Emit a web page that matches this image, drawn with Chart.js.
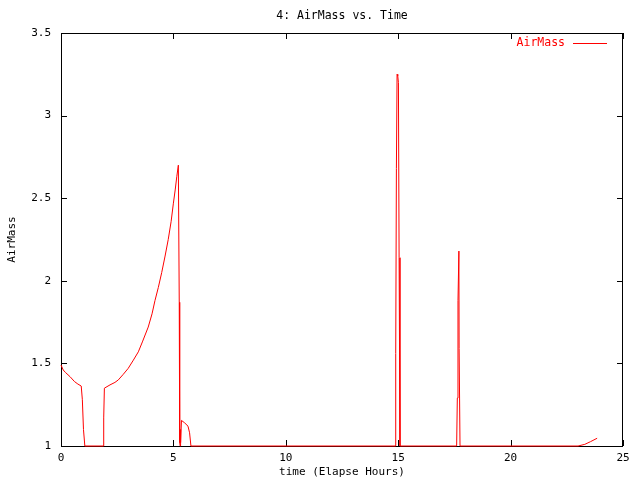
<!DOCTYPE html>
<html>
<head>
<meta charset="utf-8">
<script src="https://cdn.jsdelivr.net/npm/chart.js@4.4.1/dist/chart.umd.min.js"></script>
<style>
  html, body { margin: 0; padding: 0; background: #fff; }
  #wrap { width: 640px; height: 480px; }
</style>
</head>
<body>
<div id="wrap"><canvas id="airmassChart"></canvas></div>
<script>
// values
const chartTitle = '4: AirMass vs. Time';
const seriesLabel = 'AirMass';
const xTitle = 'time (Elapse Hours)';
const yTitle = 'AirMass';
const xTicks = [0, 5, 10, 15, 20, 25];
const yTicks = [1, 1.5, 2, 2.5, 3, 3.5];

const times = [
  0, 0.1, 0.2, 0.4, 0.6, 0.75, 0.9, 0.95, 1.0, 1.06,
  1.88, 1.90, 1.93, 2.18, 2.40, 2.55, 2.77, 2.99, 3.22, 3.44,
  3.62, 3.88, 4.05, 4.18, 4.33, 4.48, 4.63, 4.77, 4.9, 5.0,
  5.08, 5.15, 5.22, 5.26, 5.28, 5.30, 5.31, 5.33, 5.36, 5.5,
  5.65, 5.72, 5.78, 14.87, 14.89, 14.92, 14.95, 14.98, 15.01, 15.04,
  15.08, 17.60, 17.63, 17.66, 17.70, 17.71, 17.75, 23.0, 23.3, 23.55,
  23.85
];
const airmass = [
  1.49, 1.46, 1.445, 1.42, 1.39, 1.375, 1.363, 1.28, 1.1, 1.0,
  1.0, 1.17, 1.35, 1.37, 1.385, 1.40, 1.434, 1.47, 1.52, 1.57,
  1.63, 1.72, 1.80, 1.88, 1.96, 2.05, 2.15, 2.25, 2.36, 2.47,
  2.55, 2.63, 2.70, 1.87, 1.02, 1.0, 1.10, 1.02, 1.155, 1.14,
  1.12, 1.08, 1.0, 1.0, 1.56, 2.68, 3.25, 3.24, 3.20, 2.14,
  1.0, 1.0, 1.29, 1.88, 2.18, 1.59, 1.0, 1.0, 1.01, 1.026,
  1.047
];

const monoFont = '"DejaVu Sans Mono", "Liberation Mono", monospace';
const tickLen = 6;

// gnuplot style frame, inward ticks, title and legend
const gnuplotFrame = {
  id: 'gnuplotFrame',
  beforeDatasetsDraw(chart) {
    const { ctx, chartArea: a, scales } = chart;
    ctx.save();
    ctx.strokeStyle = '#000';
    ctx.lineWidth = 1;
    ctx.beginPath();
    ctx.rect(a.left + 0.5, a.top + 0.5, a.right - a.left - 1, a.bottom - a.top);
    xTicks.forEach(v => {
      const px = Math.round(scales.x.getPixelForValue(v)) + 0.5;
      ctx.moveTo(px, a.bottom); ctx.lineTo(px, a.bottom - tickLen);
      ctx.moveTo(px, a.top); ctx.lineTo(px, a.top + tickLen);
    });
    yTicks.forEach(v => {
      const py = Math.round(scales.y.getPixelForValue(v)) + 0.5;
      ctx.moveTo(a.left, py); ctx.lineTo(a.left + tickLen, py);
      ctx.moveTo(a.right, py); ctx.lineTo(a.right - tickLen, py);
    });
    ctx.stroke();
    ctx.restore();
  },
  afterDraw(chart) {
    const { ctx, chartArea: a } = chart;
    ctx.save();
    ctx.font = '11.5px ' + monoFont;
    ctx.fillStyle = '#000';
    ctx.textAlign = 'center';
    ctx.textBaseline = 'middle';
    ctx.fillText(chartTitle, (a.left + a.right) / 2, 16);

    // legend: label then line sample, like gnuplot
    const ly = a.top + 10.5;
    const lineEnd = a.right - 16;
    const lineStart = lineEnd - 34;
    ctx.strokeStyle = chart.data.datasets[0].borderColor;
    ctx.lineWidth = 1;
    ctx.beginPath();
    ctx.moveTo(lineStart, ly); ctx.lineTo(lineEnd, ly);
    ctx.stroke();
    ctx.fillStyle = chart.data.datasets[0].borderColor;
    ctx.textAlign = 'right';
    ctx.fillText(chart.data.datasets[0].label, lineStart - 8, ly);
    ctx.restore();
  }
};

new Chart(document.getElementById('airmassChart'), {
  type: 'line',
  data: {
    datasets: [{
      label: seriesLabel,
      data: times.map((t, i) => ({ x: t, y: airmass[i] })),
      borderColor: '#ff0000',
      borderWidth: 1,
      pointRadius: 0,
      tension: 0,
      clip: 2
    }]
  },
  options: {
    responsive: true,
    maintainAspectRatio: false,
    animation: false,
    layout: { padding: { top: 33, right: 17, left: 0, bottom: 0 } },
    plugins: {
      legend: { display: false },
      title: { display: false },
      tooltip: { enabled: false }
    },
    scales: {
      x: {
        type: 'linear',
        min: 0,
        max: 25,
        afterBuildTicks: scale => { scale.ticks = xTicks.map(v => ({ value: v })); },
        afterFit: scale => { scale.height = 34; },
        grid: { display: false, drawTicks: false },
        border: { display: false },
        ticks: {
          color: '#000', padding: 6, maxRotation: 0,
          font: { family: monoFont, size: 11 },
          callback: v => String(v)
        },
        title: {
          display: true, text: xTitle, color: '#000',
          padding: { top: 0, bottom: 1 },
          font: { family: monoFont, size: 11 }
        }
      },
      y: {
        min: 1,
        max: 3.5,
        afterBuildTicks: scale => { scale.ticks = yTicks.map(v => ({ value: v })); },
        afterFit: scale => { scale.width = 61; },
        grid: { display: false, drawTicks: false },
        border: { display: false },
        ticks: {
          color: '#000', padding: 10,
          font: { family: monoFont, size: 11 },
          callback: v => String(v)
        },
        title: {
          display: true, text: yTitle, color: '#000',
          padding: { top: 6, bottom: 0 },
          font: { family: monoFont, size: 11 }
        }
      }
    }
  },
  plugins: [gnuplotFrame]
});
</script>
</body>
</html>
